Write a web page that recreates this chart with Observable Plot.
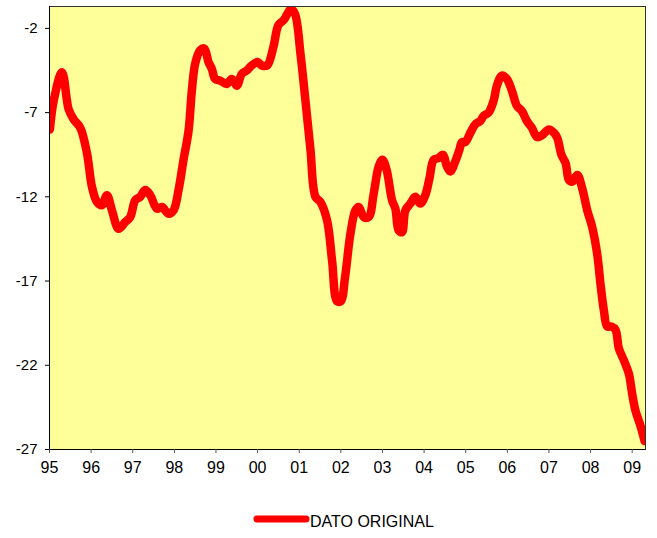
<!DOCTYPE html>
<html>
<head>
<meta charset="utf-8">
<script src="https://cdn.jsdelivr.net/npm/d3@7"></script>
<script src="https://cdn.jsdelivr.net/npm/@observablehq/plot@0.6"></script>
<style>
  html, body { margin: 0; padding: 0; background: #fff; }
  body { width: 657px; height: 538px; position: relative; font-family: "Liberation Sans", Arial, sans-serif; }
  #legend { position: absolute; left: 253px; top: 509px; display: flex; align-items: center; font-size: 16px; color: #000; }
  #legend span { position: relative; top: 3px; }
</style>
</head>
<body>
<div id="chart"></div>
<div id="legend"><svg width="57" height="20"><line x1="4" y1="10" x2="53" y2="10" stroke="#ff0000" stroke-width="7" stroke-linecap="round"/></svg><span>DATO ORIGINAL</span></div>
<script>
const seriesName = "DATO ORIGINAL";
const years = [
  1995.01, 1995.10, 1995.30, 1995.46, 1995.58, 1995.74, 1995.90, 1996.02, 1996.14, 1996.26,
  1996.38, 1996.50, 1996.66, 1996.82, 1996.94, 1997.06, 1997.18, 1997.30, 1997.42, 1997.58,
  1997.70, 1997.86, 1997.98, 1998.10, 1998.22, 1998.34, 1998.42, 1998.50, 1998.62, 1998.72,
  1998.82, 1998.90, 1998.98, 1999.10, 1999.26, 1999.38, 1999.50, 1999.62, 1999.74, 1999.86,
  2000.00, 2000.10, 2000.23, 2000.38, 2000.50, 2000.63, 2000.70, 2000.80, 2000.90, 2001.03,
  2001.15, 2001.27, 2001.39, 2001.51, 2001.67, 2001.79, 2001.91, 2002.00, 2002.10, 2002.23,
  2002.35, 2002.43, 2002.55, 2002.67, 2002.79, 2002.91, 2003.00, 2003.10, 2003.23, 2003.31,
  2003.39, 2003.47, 2003.55, 2003.67, 2003.79, 2003.91, 2004.03, 2004.13, 2004.23, 2004.35,
  2004.45, 2004.55, 2004.63, 2004.75, 2004.85, 2004.91, 2004.99, 2005.11, 2005.23, 2005.35,
  2005.43, 2005.55, 2005.67, 2005.75, 2005.87, 2005.99, 2006.11, 2006.23, 2006.35, 2006.47,
  2006.59, 2006.71, 2006.83, 2007.00, 2007.12, 2007.20, 2007.30, 2007.40, 2007.48, 2007.56,
  2007.68, 2007.80, 2007.92, 2008.04, 2008.16, 2008.24, 2008.32, 2008.40, 2008.50, 2008.60,
  2008.68, 2008.80, 2008.92, 2009.00, 2009.08, 2009.20, 2009.30
];
const values = [
  -8.0, -6.3, -4.6, -6.8, -7.4, -7.9, -9.4, -11.4, -12.3, -12.5,
  -11.9, -12.8, -13.9, -13.5, -13.2, -12.2, -12.0, -11.6, -11.9, -12.7,
  -12.6, -13.0, -12.8, -11.6, -9.8, -8.1, -5.7, -4.1, -3.3, -3.2,
  -4.0, -4.4, -5.0, -5.1, -5.3, -5.0, -5.4, -4.7, -4.5, -4.2,
  -4.0, -4.2, -4.2, -3.1, -1.8, -1.5, -1.2, -0.85, -1.15, -3.5,
  -6.3, -9.2, -12.0, -12.3, -13.4, -15.8, -18.2, -18.2, -16.8, -14.2,
  -12.8, -12.6, -13.2, -13.2, -11.8, -10.2, -9.8, -10.4, -12.2, -12.7,
  -14.0, -14.1, -12.8, -12.4, -12.0, -12.4, -11.9, -10.9, -9.8, -9.7,
  -9.5, -10.2, -10.5, -9.9, -9.2, -8.75, -8.75, -8.2, -7.7, -7.5,
  -7.2, -7.0, -6.3, -5.4, -4.8, -5.0, -5.7, -6.6, -6.9, -7.5,
  -7.9, -8.45, -8.35, -8.0, -8.2, -8.5, -9.5, -10.0, -11.0, -11.1,
  -10.7, -11.5, -12.8, -13.8, -15.4, -17.2, -18.75, -19.7, -19.7, -19.9,
  -21.0, -21.7, -22.5, -23.7, -24.7, -25.6, -26.5
];
const xTickYears = [1995, 1996, 1997, 1998, 1999, 2000, 2001, 2002, 2003, 2004, 2005, 2006, 2007, 2008, 2009];
const xTickLabels = ["95", "96", "97", "98", "99", "00", "01", "02", "03", "04", "05", "06", "07", "08", "09"];
const yTicks = [-2, -7, -12, -17, -22, -27];

const data = years.map((x, i) => ({x, y: values[i]}));

const chart = Plot.plot({
  width: 657,
  height: 485,
  marginLeft: 49,
  marginRight: 12,
  marginTop: 6,
  marginBottom: 36,
  style: {fontFamily: "'Liberation Sans', Arial, sans-serif", fontSize: "15px", color: "#000", background: "#fff"},
  x: {domain: [1995, 2009.32]},
  y: {domain: [-27, -0.7]},
  marks: [
    Plot.frame({fill: "#ffff99"}),
    Plot.line(data, {x: "x", y: "y", stroke: "#ff0000", strokeWidth: 8.5, strokeLinecap: "round", strokeLinejoin: "round", curve: "catmull-rom", clip: true}),
    Plot.frame({stroke: "#333", strokeWidth: 1}),
    Plot.ruleY([-27], {stroke: "#000"}),
    Plot.ruleX([1995], {stroke: "#000"}),
    Plot.axisX({ticks: xTickYears, tickFormat: d => xTickLabels[xTickYears.indexOf(d)], tickSize: 4, tickPadding: 8, fontSize: 16, label: null, stroke: "#555"}),
    Plot.axisY({ticks: yTicks, tickSize: 4, tickPadding: 8, fontSize: 15, label: null, tickFormat: d => String(d)})
  ]
});
document.getElementById("chart").appendChild(chart);
</script>
</body>
</html>
